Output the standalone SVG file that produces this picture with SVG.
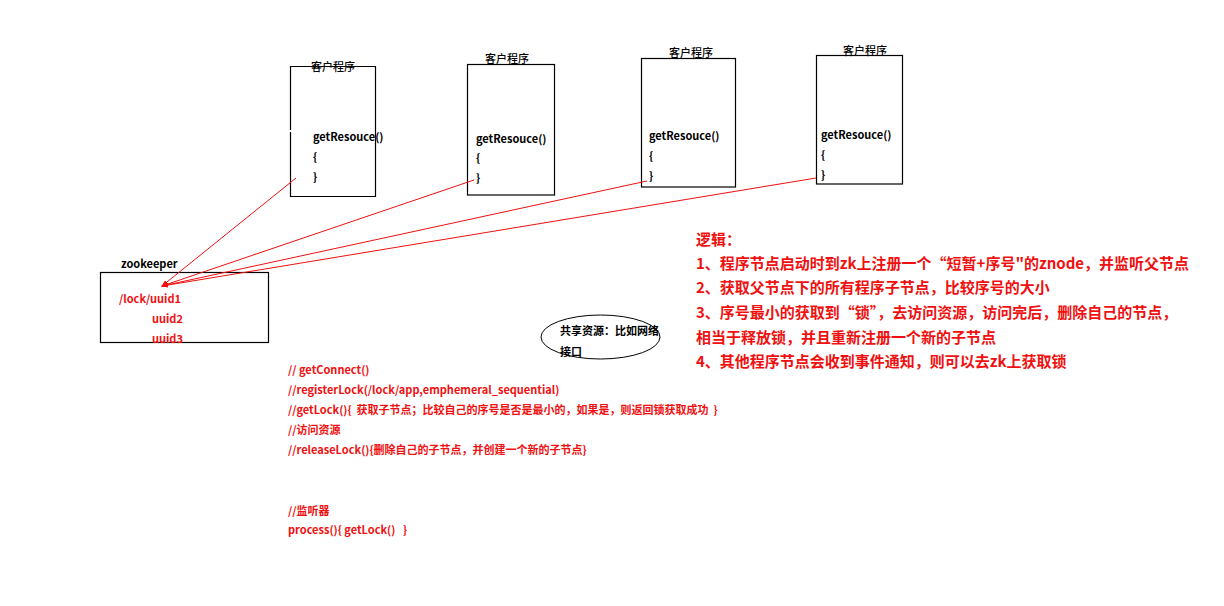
<svg xmlns="http://www.w3.org/2000/svg" width="1224" height="606" viewBox="0 0 1224 606">
<style>
text{white-space:pre}
.box{fill:none;stroke:#000;stroke-width:1.2}
.t{font-family:"Noto Sans CJK SC","Liberation Sans",sans-serif;font-size:11px;fill:#000}
.h{font-weight:500}
.b{font-weight:bold}
.r{fill:#f01010}
.code{font-family:"Noto Sans CJK SC","Liberation Sans",sans-serif;font-size:11px;font-weight:bold;fill:#f01010}
.logic{font-family:"Noto Sans CJK SC","Liberation Sans",sans-serif;font-size:15px;font-weight:bold;fill:#f01010}
.ln{stroke:#f01010;stroke-width:1;fill:none}
</style>
<defs>
<marker id="ah" markerWidth="7" markerHeight="5" refX="6" refY="2.5" orient="auto" markerUnits="userSpaceOnUse">
<path d="M0,0 L7,2.5 L0,5 z" fill="#f01010"/>
</marker>
</defs>
<rect width="1224" height="606" fill="#fff"/>
<g id="client1">
<path class="box" d="M290.5,132 V196.5 H375.5 V66.5 H290.5 V130"/>
<text class="t h" x="333" y="71" text-anchor="middle">客户程序</text>
<text class="t b" x="313" y="141">getResouce()</text>
<text class="t b" x="313" y="161">{</text>
<text class="t b" x="313" y="181">}</text>
</g>
<g id="client2">
<rect class="box" x="467.5" y="64.5" width="87" height="130.5"/>
<text class="t h" x="507" y="63" text-anchor="middle">客户程序</text>
<text class="t b" x="476" y="143">getResouce()</text>
<text class="t b" x="476" y="162">{</text>
<text class="t b" x="476" y="182">}</text>
</g>
<g id="client3">
<rect class="box" x="641.5" y="58.5" width="94" height="128.5"/>
<text class="t h" x="691" y="57" text-anchor="middle">客户程序</text>
<text class="t b" x="649" y="140">getResouce()</text>
<text class="t b" x="649" y="160">{</text>
<text class="t b" x="649" y="180">}</text>
</g>
<g id="client4">
<rect class="box" x="816.5" y="55.5" width="86" height="128.5"/>
<text class="t h" x="865" y="55" text-anchor="middle">客户程序</text>
<text class="t b" x="821" y="139">getResouce()</text>
<text class="t b" x="821" y="159">{</text>
<text class="t b" x="821" y="179">}</text>
</g>
<g id="zookeeper">
<rect class="box" x="100.5" y="272.5" width="168" height="70"/>
<text class="t b" x="121" y="268">zookeeper</text>
<text class="t b r" x="119" y="303">/lock/uuid1</text>
<text class="t b r" x="152" y="323">uuid2</text>
<text class="t b r" x="152" y="343">uuid3</text>
</g>
<g id="connectors">
<line class="ln" x1="296" y1="178" x2="162" y2="286" marker-end="url(#ah)"/>
<line class="ln" x1="474" y1="180" x2="162" y2="286" marker-end="url(#ah)"/>
<line class="ln" x1="647" y1="181" x2="162" y2="286" marker-end="url(#ah)"/>
<line class="ln" x1="816" y1="178" x2="162" y2="286" marker-end="url(#ah)"/>
</g>
<g id="resource">
<ellipse cx="600.5" cy="337" rx="59.5" ry="22" fill="none" stroke="#000" stroke-width="1"/>
<text class="t b" x="560" y="335">共享资源：比如网络</text>
<text class="t b" x="560" y="356">接口</text>
</g>
<g id="code">
<text class="code" x="288" y="374">// getConnect()</text>
<text class="code" x="288" y="394">//registerLock(/lock/app,emphemeral_sequential)</text>
<text class="code" x="288" y="414">//getLock(){  获取子节点；比较自己的序号是否是最小的，如果是，则返回锁获取成功  }</text>
<text class="code" x="288" y="434">//访问资源</text>
<text class="code" x="288" y="454">//releaseLock(){删除自己的子节点，并创建一个新的子节点}</text>
<text class="code" x="288" y="515">//监听器</text>
<text class="code" x="288" y="534">process(){ getLock()   }</text>
</g>
<g id="logic">
<text class="logic" x="696" y="245">逻辑：</text>
<text class="logic" x="696" y="269">1、程序节点启动时到zk上注册一个“短暂+序号"的znode，并监听父节点</text>
<text class="logic" x="696" y="293">2、获取父节点下的所有程序子节点，比较序号的大小</text>
<text class="logic" x="696" y="318">3、序号最小的获取到“锁”，去访问资源，访问完后，删除自己的节点，</text>
<text class="logic" x="696" y="343">相当于释放锁，并且重新注册一个新的子节点</text>
<text class="logic" x="696" y="367">4、其他程序节点会收到事件通知，则可以去zk上获取锁</text>
</g>
</svg>
